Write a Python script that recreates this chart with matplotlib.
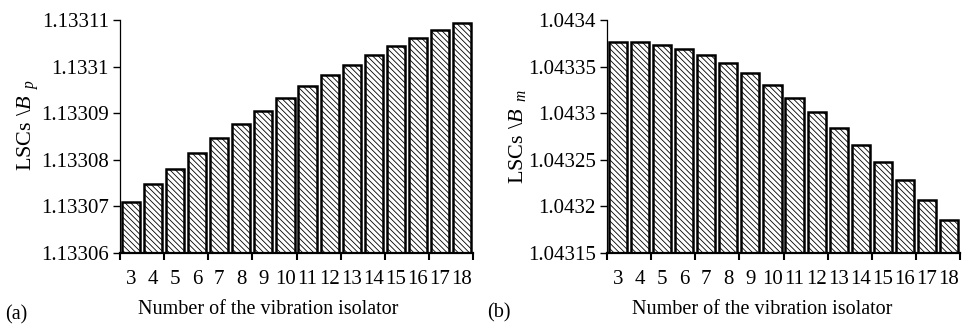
import numpy as np
import matplotlib
matplotlib.use('Agg')
import matplotlib.pyplot as plt

plt.rcParams['font.family'] = ['Liberation Serif', 'DejaVu Serif']
plt.rcParams['mathtext.fontset'] = 'custom'
plt.rcParams['mathtext.rm'] = 'Liberation Serif'
plt.rcParams['mathtext.it'] = 'Liberation Serif:italic'
plt.rcParams['hatch.linewidth'] = 0.6

# isolator numbers on the x axis
isolators = [3, 4, 5, 6, 7, 8, 9, 10, 11, 12, 13, 14, 15, 16, 17, 18]

# LSCs for B_p, panel (a)
lsc_bp = [1.1330710, 1.1330748, 1.1330781, 1.1330815, 1.1330847, 1.1330877,
          1.1330905, 1.1330933, 1.1330958, 1.1330982, 1.1331004, 1.1331025,
          1.1331044, 1.1331061, 1.1331079, 1.1331094]

# LSCs for B_m, panel (b)
lsc_bm = [1.0433768, 1.0433761, 1.0433736, 1.0433689, 1.0433625, 1.0433543,
          1.0433436, 1.0433304, 1.0433168, 1.0433014, 1.0432846, 1.0432664,
          1.0432475, 1.0432282, 1.0432071, 1.0431857]

bp_ticks = [1.13306, 1.13307, 1.13308, 1.13309, 1.1331, 1.13311]
bp_ticklabels = ['1.13306', '1.13307', '1.13308', '1.13309', '1.1331', '1.13311']
bm_ticks = [1.04315, 1.0432, 1.04325, 1.0433, 1.04335, 1.0434]
bm_ticklabels = ['1.04315', '1.0432', '1.04325', '1.0433', '1.04335', '1.0434']

TICK_FS = 15
LABEL_FS = 14.5
YLABEL_FS = 16


def draw_panel(ax, values, yticks, yticklabels, ylabel):
    x = np.arange(len(isolators))
    ax.bar(x, values, width=0.82, bottom=0, color='white', edgecolor='black',
           linewidth=1.8, hatch='\\\\\\\\\\\\')
    ax.set_xlim(-0.5, len(isolators) - 0.5)
    ax.set_ylim(yticks[0], yticks[-1])
    ax.set_yticks(yticks)
    ax.set_yticklabels(yticklabels, fontsize=TICK_FS)

    # tick marks between every other pair of bars, labels under each bar
    ax.set_xticks(np.arange(-0.5, len(isolators), 2))
    ax.set_xticklabels([])
    ax.set_xticks(x, minor=True)
    ax.set_xticklabels([str(i) for i in isolators], minor=True, fontsize=TICK_FS)
    ax.tick_params(axis='x', which='minor', length=0, pad=12)
    ax.tick_params(axis='x', which='major', length=5, width=1.5, direction='out')
    ax.tick_params(axis='y', length=5, width=1, direction='out', pad=3)

    ax.spines['top'].set_visible(False)
    ax.spines['right'].set_visible(False)
    ax.spines['left'].set_linewidth(0.9)
    ax.spines['bottom'].set_linewidth(1.6)
    ax.set_ylabel(ylabel, fontsize=YLABEL_FS)


fig = plt.figure(figsize=(9.65, 3.25), dpi=100)
ax_a = fig.add_axes([120 / 965, 1 - 253 / 325, 353 / 965, 233 / 325])
ax_b = fig.add_axes([607 / 965, 1 - 253 / 325, 353 / 965, 233 / 325])

draw_panel(ax_a, lsc_bp, bp_ticks, bp_ticklabels, r'LSCs $\backslash B_{\ \ p}$')
draw_panel(ax_b, lsc_bm, bm_ticks, bm_ticklabels, r'LSCs $\backslash B_{\ \ m}$')
ax_a.yaxis.set_label_coords(-0.225, 0.55)
ax_b.yaxis.set_label_coords(-0.225, 0.5)

fig.text(268 / 965, 1 - 309 / 325, 'Number of the vibration isolator',
         ha='center', va='center', fontsize=LABEL_FS)
fig.text(762 / 965, 1 - 309 / 325, 'Number of the vibration isolator',
         ha='center', va='center', fontsize=LABEL_FS)
fig.text(5 / 965, 1 - 315 / 325, '(a)', ha='left', va='center', fontsize=LABEL_FS)
fig.text(487 / 965, 1 - 313 / 325, '(b)', ha='left', va='center', fontsize=LABEL_FS)

fig.savefig('out.png', dpi=100)
